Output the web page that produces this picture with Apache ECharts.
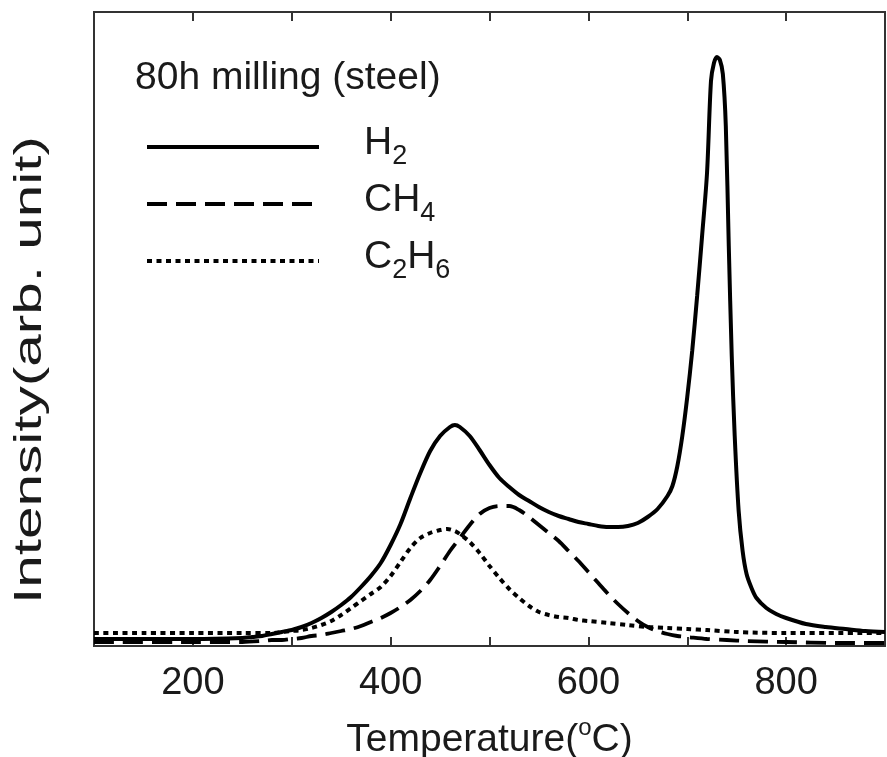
<!DOCTYPE html>
<html>
<head>
<meta charset="utf-8">
<script src="https://cdn.jsdelivr.net/npm/echarts@6/dist/echarts.min.js"></script>
<style>
html,body{margin:0;padding:0;background:#fff;}
#c{width:887px;height:757px;}
</style>
</head>
<body>
<div id="c"></div>
<script>
// ---- data (temperature in °C, intensity in arbitrary units) ----
const seriesNames = ['H2', 'CH4', 'C2H6'];
const xTickLabels = [200, 400, 600, 800];

const h2Temp = [100,150,200,250,260,270,280,290,300,310,320,330,340,350,360,370,380,390,400,410,420,430,440,450,460,465,470,480,490,500,510,520,530,540,550,560,570,580,590,600,610,620,630,640,650,660,670,680,685,690,695,700,705,710,715,720,724,727,730,733,736,739,742,745,748,752,756,760,765,770,780,790,800,820,840,860,880,900];
const h2Int  = [7,7,7,8,9,10,12,14,16,19,23,28,34,41,49,59,70,83,101,122,148,173,195,210,219,221,219,210,196,181,168,159,151,145,139,134,130,127,124,122,120,119,119,120,123,129,137,150,160,180,210,249,295,350,410,473,565,583,589,586,572,520,400,290,210,135,95,72,58,48,38,32,28,22,19,17,15,14];

const ch4Temp = [100,200,250,270,280,290,300,310,320,330,340,350,360,370,380,390,400,410,420,430,440,450,460,470,480,490,500,510,520,530,540,550,560,570,580,590,600,610,620,630,640,650,660,670,680,690,700,720,740,760,800,850,900];
const ch4Int  = [4,4,4,5,6,6,7,8,10,11,13,15,17,20,24,28,33,39,46,55,66,80,95,108,121,132,138,140,140,136,129,121,113,105,95,85,74,63,52,42,33,25,19,15,12,10,9,7,6,5,4,3,3];

const c2h6Temp = [100,150,200,250,280,290,300,310,320,330,340,350,360,370,380,390,400,410,420,430,440,450,457,465,470,480,490,500,510,520,530,540,550,560,570,580,590,600,620,640,660,680,700,720,750,800,900];
const c2h6Int  = [13,13,13,13,13,14,15,16,18,21,25,31,38,45,52,59,70,84,98,108,113,116,117,115,112,104,93,80,68,57,48,40,34,31,29,28,26,25,23,21,19,18,17,16,14,13,13];

function pairs(t, v) { return t.map((x, i) => [x, v[i]]); }

const FONT = '"Liberation Sans", Arial, sans-serif';
const INK = '#1a1a1a';
const chart = echarts.init(document.getElementById('c'), null, {renderer: 'canvas'});

function legendFmt(name) {
  return name.replace(/([A-Z]+)/g, '{m|$1}').replace(/(\d)/g, '{s|$1}');
}

chart.setOption({
  animation: false,
  backgroundColor: '#ffffff',
  title: {
    text: '80h milling (steel)',
    left: 135, top: 59, padding: 0,
    textStyle: {fontFamily: FONT, fontSize: 39, fontWeight: 'normal', color: INK}
  },
  legend: {
    data: seriesNames,
    orient: 'vertical',
    left: 145, top: 124, padding: 0,
    itemWidth: 172, itemHeight: 10,
    itemGap: 11,
    selectedMode: false,
    itemStyle: {opacity: 0, color: 'rgba(0,0,0,0)', borderWidth: 0},
    lineStyle: {width: 4},
    textStyle: {
      fontFamily: FONT, color: INK,
      padding: [0, 0, 0, 40],
      rich: {
        m: {fontFamily: FONT, fontSize: 39, color: INK, lineHeight: 46, verticalAlign: 'top'},
        s: {fontFamily: FONT, fontSize: 27, color: INK, lineHeight: 22, verticalAlign: 'bottom'}
      }
    },
    formatter: legendFmt
  },
  grid: {
    left: 94, right: 2, top: 12, bottom: 111,
    containLabel: false, outerBoundsMode: 'none',
    show: true, borderColor: '#333', borderWidth: 2, backgroundColor: 'transparent'
  },
  xAxis: [{
    type: 'value', min: 100, max: 900, interval: 100,
    axisLine: {show: false},
    axisTick: {show: true, inside: true, length: 9, lineStyle: {color: '#333', width: 2}},
    splitLine: {show: false},
    axisLabel: {
      fontFamily: FONT, fontSize: 38, color: INK, margin: 19,
      formatter: v => (xTickLabels.indexOf(v) >= 0 ? String(v) : '')
    },
    name: '{a|Temperature(}{o|o}{a|C)}',
    nameLocation: 'middle', nameGap: 70,
    nameTextStyle: {
      rich: {
        a: {fontFamily: FONT, fontSize: 39, color: INK, lineHeight: 44, verticalAlign: 'bottom'},
        o: {fontFamily: FONT, fontSize: 24, color: INK, lineHeight: 44, verticalAlign: 'top', padding: [0, 0, 14, 0]}
      }
    }
  }, {
    type: 'value', min: 100, max: 900, interval: 100, position: 'top',
    axisLine: {show: false},
    axisTick: {show: true, inside: true, length: 9, lineStyle: {color: '#333', width: 2}},
    axisLabel: {show: false},
    splitLine: {show: false}
  }],
  yAxis: {
    type: 'value', min: 0, max: 634,
    axisLine: {show: false}, axisTick: {show: false},
    axisLabel: {show: false}, splitLine: {show: false}
  },
  graphic: [{
    type: 'text', x: 30, y: 370, rotation: Math.PI / 2, scaleX: 1.5, scaleY: 1,
    style: {text: 'Intensity(arb. unit)', font: '39px ' + FONT, fill: INK, align: 'center', verticalAlign: 'middle'}
  }],
  series: [{
    name: 'H2', type: 'line', data: pairs(h2Temp, h2Int), smooth: 0.3,
    symbol: 'none', z: 5,
    lineStyle: {color: '#000', width: 4, type: 'solid'}, itemStyle: {color: '#000'}
  }, {
    name: 'CH4', type: 'line', data: pairs(ch4Temp, ch4Int), smooth: 0.3,
    symbol: 'none', z: 4,
    lineStyle: {color: '#000', width: 3.8, type: [20, 9]}, itemStyle: {color: '#000'}
  }, {
    name: 'C2H6', type: 'line', data: pairs(c2h6Temp, c2h6Int), smooth: 0.3,
    symbol: 'none', z: 3,
    lineStyle: {color: '#000', width: 4, type: [5, 4.5]}, itemStyle: {color: '#000'}
  }]
});
</script>
</body>
</html>
